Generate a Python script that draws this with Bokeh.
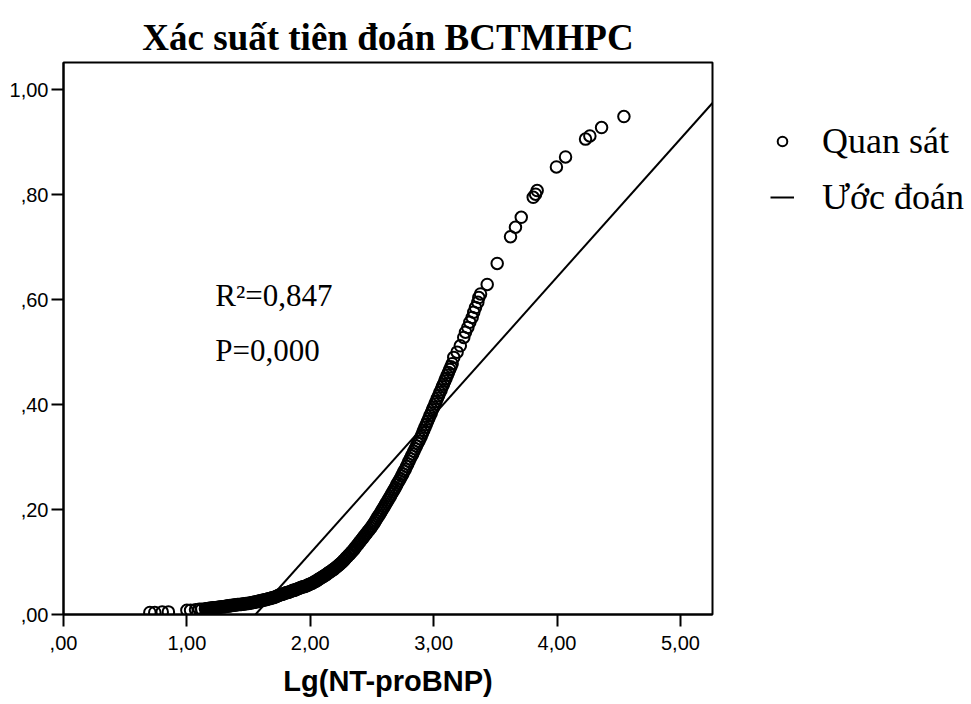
from bokeh.plotting import figure
from bokeh.models import FixedTicker, Label, Legend, LegendItem, Range1d, ColumnDataSource
from bokeh.embed import file_html
from bokeh.resources import INLINE

# ---------------- data ----------------
title_text = "Xác suất tiên đoán BCTMHPC"
x_label = "Lg(NT-proBNP)"
series_names = ["Quan sát", "Ước đoán"]
x_ticks = [0, 1, 2, 3, 4, 5]
x_tick_labels = [",00", "1,00", "2,00", "3,00", "4,00", "5,00"]
y_ticks = [0, 0.2, 0.4, 0.6, 0.8, 1.0]
y_tick_labels = [",00", ",20", ",40", ",60", ",80", "1,00"]

lg_ntprobnp = [
    0.70, 0.74, 0.80, 0.85, 1.00, 1.03, 1.07, 1.10, 1.12,
    1.15, 1.16, 1.17, 1.18, 1.19, 1.20, 1.21, 1.22, 1.23, 1.24,
    1.25, 1.26, 1.27, 1.28, 1.29, 1.30, 1.31, 1.32, 1.33, 1.34,
    1.35, 1.36, 1.37, 1.38, 1.39, 1.40, 1.41, 1.42, 1.43, 1.44,
    1.45, 1.46, 1.47, 1.48, 1.49, 1.50, 1.51, 1.52, 1.53, 1.54,
    1.55, 1.56, 1.57, 1.58, 1.59, 1.60, 1.61, 1.62, 1.63, 1.64,
    1.65, 1.66, 1.67, 1.68, 1.69, 1.70, 1.71, 1.72, 1.73, 1.74,
    1.75, 1.76, 1.77, 1.78, 1.79, 1.80, 1.81, 1.82, 1.83, 1.84,
    1.85, 1.86, 1.87, 1.88, 1.89, 1.90, 1.91, 1.92, 1.93, 1.94,
    1.95, 1.96, 1.97, 1.98, 1.99, 2.00, 2.01, 2.02, 2.03, 2.04,
    2.05, 2.06, 2.07, 2.08, 2.09, 2.10, 2.11, 2.12, 2.13, 2.14,
    2.15, 2.16, 2.17, 2.18, 2.19, 2.20, 2.21, 2.22, 2.23, 2.24,
    2.25, 2.26, 2.27, 2.28, 2.29, 2.30, 2.31, 2.32, 2.33, 2.34,
    2.35, 2.36, 2.37, 2.38, 2.39, 2.40, 2.41, 2.42, 2.43, 2.44,
    2.45, 2.46, 2.47, 2.48, 2.49, 2.50, 2.51, 2.52, 2.53, 2.54,
    2.55, 2.56, 2.57, 2.58, 2.59, 2.60, 2.61, 2.62, 2.63, 2.64,
    2.65, 2.66, 2.67, 2.68, 2.69, 2.70, 2.71, 2.72, 2.73, 2.74,
    2.75, 2.76, 2.77, 2.78, 2.79, 2.80, 2.81, 2.82, 2.83, 2.84,
    2.85, 2.86, 2.87, 2.88, 2.89, 2.90, 2.91, 2.92, 2.93, 2.94,
    2.95, 2.96, 2.97, 2.98, 2.99, 3.00, 3.01, 3.02, 3.03, 3.04,
    3.05, 3.06, 3.07, 3.08, 3.09, 3.10, 3.11, 3.12, 3.13, 3.14,
    3.15, 3.163, 3.19, 3.216, 3.244, 3.258, 3.277, 3.293, 3.312,
    3.325, 3.339, 3.358, 3.366, 3.38, 3.434, 3.515, 3.623, 3.663,
    3.710, 3.807, 3.826, 3.839, 3.995, 4.069, 4.231, 4.266, 4.361,
    4.542,
]
prob_observed = [
    0.004, 0.004, 0.005, 0.005, 0.008, 0.008, 0.009, 0.010, 0.010,
    0.011, 0.011, 0.011, 0.012, 0.012, 0.012, 0.013, 0.013, 0.013, 0.013,
    0.014, 0.014, 0.014, 0.015, 0.015, 0.015, 0.015, 0.016, 0.016, 0.016,
    0.017, 0.017, 0.017, 0.018, 0.018, 0.018, 0.019, 0.019, 0.019, 0.019,
    0.020, 0.020, 0.020, 0.021, 0.021, 0.021, 0.022, 0.022, 0.023, 0.023,
    0.024, 0.024, 0.025, 0.025, 0.026, 0.026, 0.027, 0.027, 0.028, 0.028,
    0.029, 0.030, 0.030, 0.031, 0.032, 0.032, 0.033, 0.034, 0.035, 0.036,
    0.037, 0.038, 0.038, 0.039, 0.040, 0.041, 0.042, 0.042, 0.043, 0.044,
    0.045, 0.046, 0.046, 0.047, 0.048, 0.049, 0.050, 0.051, 0.052, 0.053,
    0.053, 0.054, 0.055, 0.056, 0.057, 0.058, 0.059, 0.060, 0.062, 0.063,
    0.064, 0.066, 0.067, 0.069, 0.070, 0.072, 0.073, 0.075, 0.076, 0.078,
    0.080, 0.081, 0.083, 0.085, 0.086, 0.088, 0.090, 0.092, 0.094, 0.096,
    0.098, 0.100, 0.103, 0.105, 0.108, 0.110, 0.113, 0.115, 0.118, 0.120,
    0.123, 0.126, 0.129, 0.132, 0.135, 0.138, 0.141, 0.144, 0.147, 0.150,
    0.153, 0.156, 0.159, 0.162, 0.165, 0.168, 0.172, 0.175, 0.179, 0.183,
    0.187, 0.190, 0.194, 0.198, 0.202, 0.206, 0.210, 0.214, 0.218, 0.222,
    0.226, 0.230, 0.234, 0.238, 0.242, 0.247, 0.251, 0.255, 0.259, 0.264,
    0.268, 0.273, 0.277, 0.282, 0.287, 0.292, 0.297, 0.302, 0.306, 0.311,
    0.316, 0.321, 0.326, 0.330, 0.335, 0.340, 0.346, 0.351, 0.357, 0.362,
    0.368, 0.373, 0.379, 0.384, 0.390, 0.395, 0.401, 0.406, 0.412, 0.417,
    0.423, 0.428, 0.434, 0.439, 0.445, 0.450, 0.456, 0.461, 0.467, 0.472,
    0.478, 0.490, 0.500, 0.512, 0.528, 0.538, 0.547, 0.557, 0.566,
    0.576, 0.585, 0.595, 0.604, 0.611, 0.629, 0.669, 0.720, 0.738,
    0.757, 0.795, 0.801, 0.808, 0.853, 0.872, 0.906, 0.912, 0.928,
    0.949,
]

# linear fit ("Ước đoán")
fit_intercept = -0.4096
fit_slope = 0.2632
r_squared_text = "R²=0,847"
p_value_text = "P=0,000"

X_MAX = 5.26
Y_MAX = 1.052

# ---------------- figure ----------------
p = figure(
    frame_width=649, frame_height=552,
    x_range=Range1d(0, X_MAX), y_range=Range1d(0, Y_MAX),
    output_backend="svg", toolbar_location=None,
    min_border_left=63, min_border_right=0,
    min_border_top=62, min_border_bottom=90,
)
p.background_fill_color = "white"
p.border_fill_color = "white"
p.outline_line_color = "black"
p.outline_line_width = 2
p.grid.visible = False

p.title.text = title_text
p.title.text_font = "Liberation Serif"
p.title.text_font_style = "bold"
p.title.text_font_size = "37px"
p.title.text_color = "black"
p.title.align = "center"
p.title.standoff = 10

obs_src = ColumnDataSource(dict(x=lg_ntprobnp, y=prob_observed))
sc = p.scatter("x", "y", source=obs_src, marker="circle", size=11.5,
               fill_color=None, line_color="black", line_width=2)

x_fit = [-fit_intercept / fit_slope, X_MAX]
y_fit = [fit_intercept + fit_slope * xv for xv in x_fit]
ln = p.line(x_fit, y_fit, line_color="black", line_width=2)

# axes
p.xaxis.ticker = FixedTicker(ticks=x_ticks)
p.yaxis.ticker = FixedTicker(ticks=y_ticks)
p.xaxis.major_label_overrides = {t: l for t, l in zip(x_ticks, x_tick_labels)}
p.yaxis.major_label_overrides = {t: l for t, l in zip(y_ticks, y_tick_labels)}
for ax in (p.xaxis, p.yaxis):
    ax.major_label_text_font = "Liberation Sans"
    ax.major_label_text_font_size = "20px"
    ax.major_label_text_color = "black"
    ax.axis_line_width = 2
    ax.axis_line_color = "black"
    ax.major_tick_line_width = 2
    ax.major_tick_line_color = "black"
    ax.major_tick_out = 12
    ax.major_tick_in = 0
    ax.minor_tick_out = 0
    ax.minor_tick_in = 0
p.xaxis.major_label_standoff = 9
p.yaxis.major_label_standoff = 3
p.xaxis.axis_label = x_label
p.xaxis.axis_label_text_font = "Liberation Sans"
p.xaxis.axis_label_text_font_style = "bold"
p.xaxis.axis_label_text_font_size = "29px"
p.xaxis.axis_label_text_color = "black"
p.xaxis.axis_label_standoff = 12

# annotations
for txt, yv in ((r_squared_text, 0.608), (p_value_text, 0.503)):
    p.add_layout(Label(x=1.23, y=yv, text=txt, text_font="Liberation Serif",
                       text_font_size="31px", text_baseline="alphabetic",
                       text_color="black"))

legend = Legend(
    items=[LegendItem(label=series_names[0], renderers=[sc]),
           LegendItem(label=series_names[1], renderers=[ln])],
    location="top_left", orientation="vertical",
    border_line_color=None, background_fill_alpha=0,
    label_text_font="Liberation Serif", label_text_font_size="36px",
    label_text_color="black",
    glyph_width=24, glyph_height=34, label_standoff=28,
    spacing=14, padding=0, margin=58,
)
p.add_layout(legend, "right")

open("out.html", "w").write(file_html(p, INLINE))
